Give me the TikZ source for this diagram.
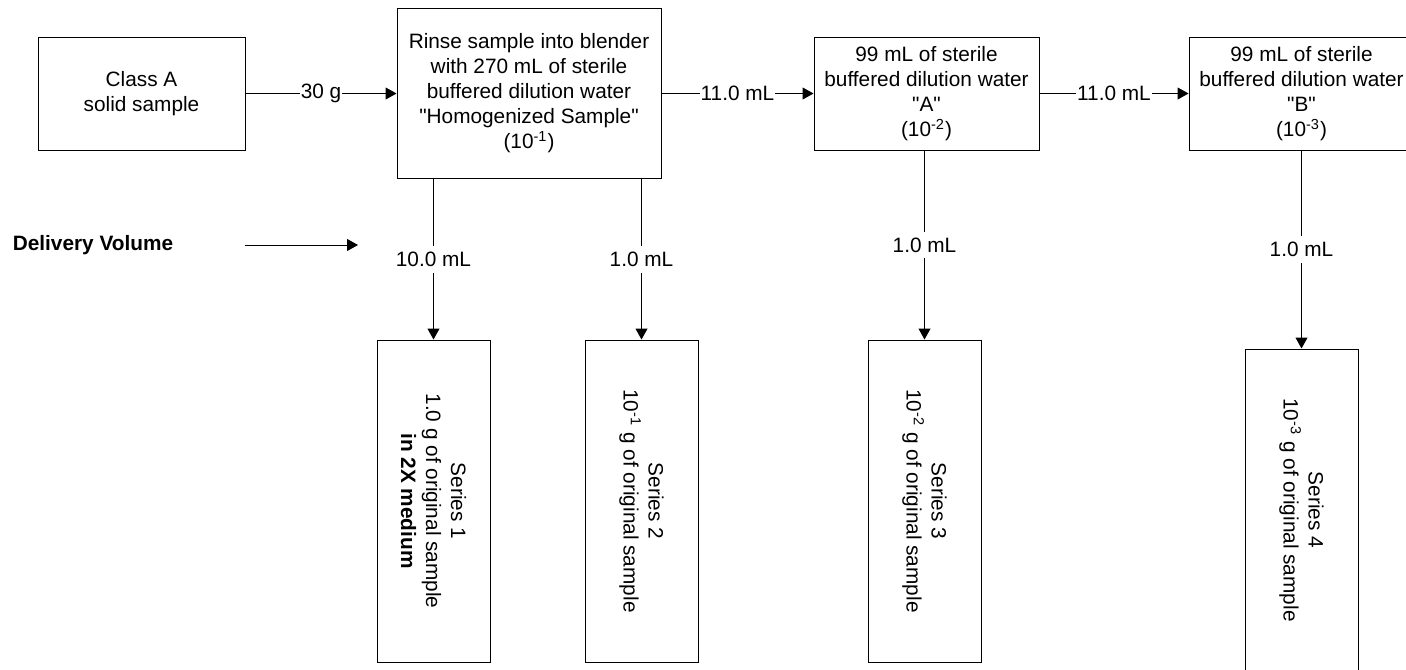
\documentclass[tikz,border=0pt]{standalone}
\usepackage{fontspec}
\setmainfont{Liberation Sans}[Ligatures=TeXOff]
\usetikzlibrary{arrows.meta, positioning}

\begin{document}
\begin{tikzpicture}[
  x=0.5pt, y=-0.5pt,
  node distance=75.5pt,
  box/.style={rectangle, draw, line width=0.5pt, inner sep=0pt, align=center, font=\fontsize{10.4}{12.5}\selectfont},
  topbox/.style={box, minimum width=112.5pt, minimum height=56.5pt},
  series/.style={box, rotate=-90, minimum width=161pt, minimum height=56.5pt},
  lbl/.style={fill=white, inner xsep=0.5pt, inner ysep=3pt, font=\fontsize{10.4}{12.5}\selectfont},
  arrow/.style={-{Triangle[length=5.5pt, width=6pt]}, line width=0.5pt}
]
  \useasboundingbox (0,0) rectangle (1406,669);
  % top row
  \node[box, minimum width=103.5pt, minimum height=56.5pt] (A) at (141.5,93.5) {Class A\\solid sample};
  \node[box, minimum width=132pt, minimum height=85pt, right=of A] (B) {Rinse sample into blender\\with 270 mL of sterile\\buffered dilution water\\"Homogenized Sample"\\(10\textsuperscript{-1})};
  \node[topbox, right=76pt of B] (C) {99 mL of sterile\\buffered dilution water\\"A"\\(10\textsuperscript{-2})};
  \node[topbox, right=74.5pt of C] (D) {99 mL of sterile\\buffered dilution water\\"B"\\(10\textsuperscript{-3})};
  \draw[arrow] (A) -- node[lbl] {30 g} (B);
  \draw[arrow] (B) -- node[lbl] {11.0 mL} (C);
  \draw[arrow] (C) -- node[lbl] {11.0 mL} (D);
  % series tubes
  \node[series] (S1) at (433.5,501) {Series 1\\1.0 g of original sample\\\textbf{in 2X medium}};
  \node[series] (S2) at (641.5,501) {Series 2\\10\textsuperscript{-1} g of original sample};
  \node[series] (S3) at (924.5,501) {Series 3\\10\textsuperscript{-2} g of original sample};
  \node[series] (S4) at (1301.5,510) {Series 4\\10\textsuperscript{-3} g of original sample};
  \draw[arrow] (B.south -| S1.west) -- node[lbl] {10.0 mL} (S1.west);
  \draw[arrow] (B.south -| S2.west) -- node[lbl] {1.0 mL} (S2.west);
  \draw[arrow] (C.south -| S3.west) -- node[lbl] {1.0 mL} (S3.west);
  \draw[arrow] (D.south -| S4.west) -- node[lbl] {1.0 mL} (S4.west);
  % delivery volume
  \node[inner sep=0pt, font=\fontsize{10.4}{12.5}\selectfont\bfseries] (DV) at (93,245) {Delivery Volume};
  \coordinate (DVend) at (358,245);
  \draw[arrow, shorten <=35.5pt] (DV.east) -- (DVend);
\end{tikzpicture}
\end{document}
